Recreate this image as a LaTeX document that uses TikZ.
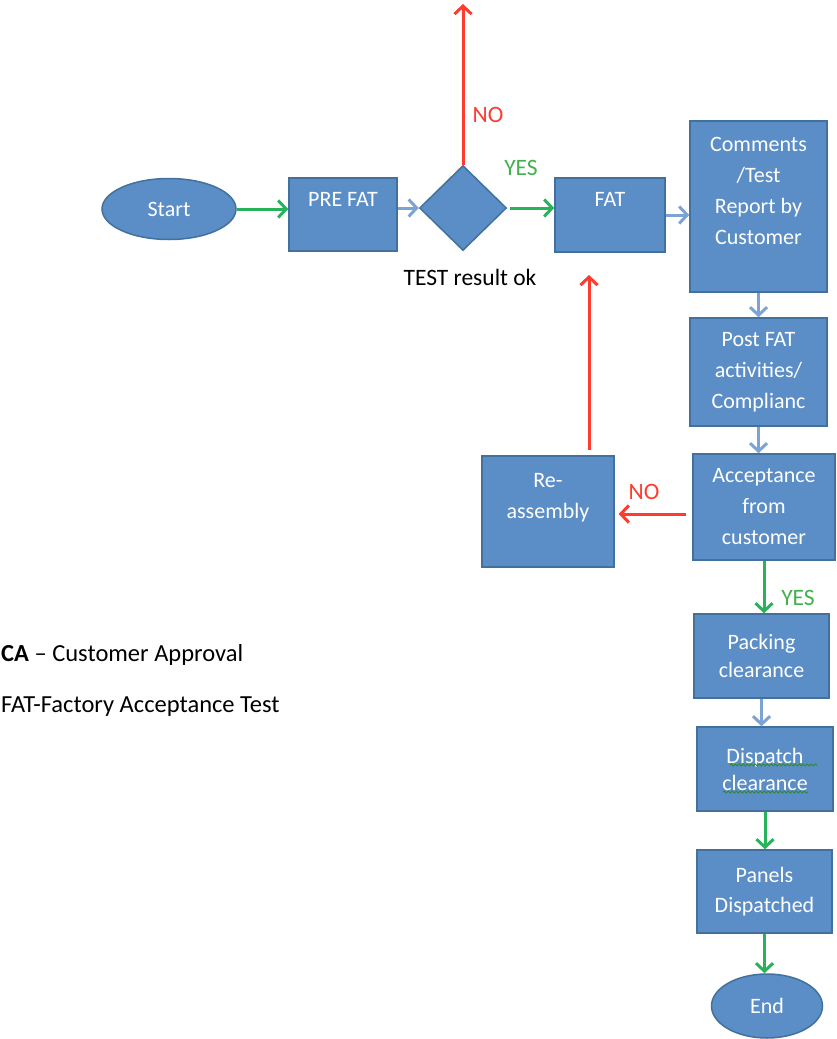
\documentclass[tikz,border=0pt]{standalone}
\usepackage{fontspec}
\setmainfont{Carlito}
\usetikzlibrary{shapes.geometric,arrows.meta,decorations.pathmorphing}
\definecolor{boxfill}{HTML}{5B8DC6}
\definecolor{boxline}{HTML}{41719C}
\definecolor{bluearr}{HTML}{7BA3D4}
\definecolor{greenarr}{HTML}{27B35A}
\definecolor{redarr}{HTML}{FF3B2F}
\definecolor{yescol}{HTML}{45B04F}
\definecolor{squig}{HTML}{2E8B2E}
\begin{document}
\begin{tikzpicture}[x=1pt,y=-1pt,
  box/.style={rectangle, draw=boxline, line width=1.5pt, fill=boxfill, text=white,
    align=center, inner sep=0pt, font=\fontsize{22}{31}\selectfont},
  term/.style={box, ellipse},
  flow/.style={line width=3pt, -{Straight Barb[length=8pt,width=17pt,line width=3pt]}},
  lab/.style={inner sep=0pt, font=\fontsize{23.5}{28}\selectfont},
  legend/.style={inner sep=0pt, anchor=west, font=\fontsize{24.5}{28}\selectfont},
  squiggle/.style={squig, line width=1pt, decorate, decoration={snake, amplitude=1pt, segment length=4pt}}]
\useasboundingbox (0,0) rectangle (837,1039);

% nodes
\node[term, minimum width=134, minimum height=61] (start) at (169,209) {Start};
\node[box, minimum width=108, minimum height=73] (prefat) at (343,214.5) {PRE FAT\\\mbox{}};
\node[diamond, draw=boxline, fill=boxfill, line width=1.5pt, minimum width=87,
  minimum height=85, inner sep=0pt, aspect=1] (dia) at (463,208) {};
\node[box, minimum width=110, minimum height=74] (fat) at (610,215) {FAT\\\mbox{}};
\node[box, minimum width=137, minimum height=171] (comm) at (758.5,206.5)
  {Comments\\/Test\\Report by\\Customer\\\mbox{}};
\node[box, minimum width=137, minimum height=108] (post) at (758.5,372)
  {Post FAT\\activities/\\Complianc};
\node[box, minimum width=142, minimum height=106] (acc) at (764,507)
  {Acceptance\\from\\customer};
\node[box, minimum width=132, minimum height=111] (reas) at (548,511.5)
  {Re-\\assembly\\\mbox{}};
\node[box, minimum width=135, minimum height=84, font=\fontsize{22}{28}\selectfont] (pack) at (761.5,656)
  {Packing\\clearance};
\node[box, minimum width=136, minimum height=84, font=\fontsize{22}{27}\selectfont] (disp) at (765,769)
  {Dispatch\\clearance};
\node[box, minimum width=135, minimum height=83, font=\fontsize{22}{30}\selectfont] (panels) at (764.5,891.5)
  {Panels\\Dispatched};
\node[term, minimum width=111, minimum height=64] (end) at (767,1006) {End};

% spell-check squiggles
\draw[squiggle] ([shift={(-35,-4)}]disp.center) -- ([shift={(52,-4)}]disp.center);
\draw[squiggle] ([shift={(-42,23)}]disp.center) -- ([shift={(43,23)}]disp.center);

% connectors
\coordinate (top) at (463,4);
\coordinate (ret) at (589,275);
\draw[flow, greenarr] (start.east) -- (start.east -| prefat.west);
\draw[flow, bluearr] (dia.west -| prefat.east) -- (dia.west);
\draw[flow, greenarr, shorten <=3pt] (dia.east) -- (dia.east -| fat.west);
\draw[flow, redarr] (dia.north) -- (top);
\draw[flow, bluearr] (fat.east) -- (fat.east -| comm.west);
\draw[flow, bluearr] (comm.south) -- (comm.south |- post.north);
\draw[flow, bluearr] (post.south) -- (post.south |- acc.north);
\draw[flow, redarr, shorten <=6pt, shorten >=4pt] ([yshift=-7pt]acc.west) -- ([yshift=-7pt]acc.west -| reas.east);
\draw[flow, redarr, shorten <=5pt] (reas.north -| ret) -- (ret);
\draw[flow, greenarr] (acc.south) -- (acc.south |- pack.north);
\draw[flow, bluearr] (pack.south) -- (pack.south |- disp.north);
\draw[flow, greenarr] (disp.south) -- (disp.south |- panels.north);
\draw[flow, greenarr] (panels.south) -- (panels.south |- end.north);

% labels
\node[lab, text=redarr] (no1) at (488,115) {NO};
\node[lab, text=yescol] (yes1) at (521,168) {YES};
\node[lab] (test) at (470,277) {TEST result ok};
\node[lab, text=redarr] (no2) at (644,492) {NO};
\node[lab, text=yescol] (yes2) at (798,598) {YES};
\node[legend] (ca) at (1,655) {\textbf{CA} – Customer Approval};
\node[legend] (fatdef) at (1,707) {FAT-Factory Acceptance Test};
\end{tikzpicture}
\end{document}
